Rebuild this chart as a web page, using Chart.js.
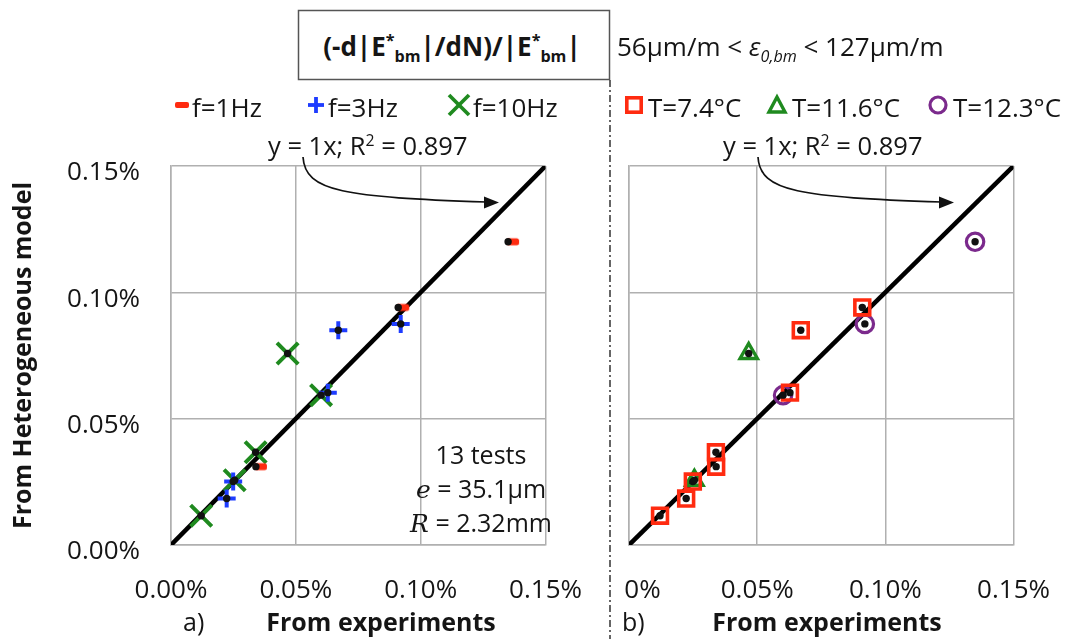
<!DOCTYPE html>
<html><head><meta charset="utf-8">
<script src="https://cdn.jsdelivr.net/npm/chart.js@4.4.1/dist/chart.umd.min.js"></script>
<style>
html,body{margin:0;padding:0;background:#fff;width:1080px;height:639px;overflow:hidden;}
#wrap{position:relative;width:1080px;height:639px;font-family:'Open Sans',sans-serif;color:#151515;}
canvas{position:absolute;top:0;}
.t{position:absolute;white-space:nowrap;line-height:1;}
.c{transform:translate(-50%,-50%);}
.l{transform:translateY(-50%);}
.b{font-weight:bold;}
sub,sup{font-size:62%;line-height:0;}
.ser{font-family:'DejaVu Serif','Liberation Serif',serif;font-style:italic;}
svg{position:absolute;left:0;top:0;pointer-events:none;}
</style></head><body>
<div id="wrap">
<canvas id="cA" width="612" height="639" style="left:0"></canvas>
<canvas id="cB" width="520" height="639" style="left:560px"></canvas>
<svg width="1080" height="639" viewBox="0 0 1080 639">
  <rect x="298.5" y="10.5" width="311" height="69" fill="#fff" stroke="#555" stroke-width="1.5"/>
  <line x1="610" y1="80" x2="610" y2="639" stroke="#333" stroke-width="1.5" stroke-dasharray="7 3 2 3"/>
  <g fill="none" stroke="#111" stroke-width="1.7">
    <path d="M303,157 C305,192 345,197 487,202"/>
    <path d="M758,157 C760,192 800,197 942,202"/>
  </g>
  <g fill="#111">
    <polygon points="499,202.5 484,196.5 484,208.5"/>
    <polygon points="954,202.5 939,196.5 939,208.5"/>
  </g>
  <g id="legendMarks"></g>
</svg>
<div class="t c b" style="left:452px;top:46px;font-size:26px;">(-d|E<sup>*</sup><sub>bm</sub>|/dN)/|E<sup>*</sup><sub>bm</sub>|</div>
<div class="t l" style="left:617px;top:46px;font-size:26px;">56μm/m &lt; <i>ε<sub>0,bm</sub></i> &lt; 127μm/m</div>
<div id="legendText"></div>
<div class="t l" style="left:268px;top:146px;font-size:25.5px;">y = 1x; R<sup>2</sup> = 0.897</div>
<div class="t l" style="left:723px;top:146px;font-size:25.5px;">y = 1x; R<sup>2</sup> = 0.897</div>
<div class="t c" style="left:481px;top:454px;font-size:25px;">13 tests</div>
<div class="t c" style="left:481px;top:489px;font-size:25px;"><span class="ser">e</span> = 35.1μm</div>
<div class="t c" style="left:481px;top:523px;font-size:25px;"><span class="ser">R</span> = 2.32mm</div>
<div class="t l" style="left:183px;top:621px;font-size:25px;">a)</div>
<div class="t c b" style="left:381px;top:621px;font-size:25px;">From experiments</div>
<div class="t l" style="left:622px;top:621px;font-size:25px;">b)</div>
<div class="t c b" style="left:827px;top:621px;font-size:25px;">From experiments</div>
</div>
<script>
// ---- data ----
const expX   = [0.135, 0.091, 0.034, 0.067, 0.092, 0.0628, 0.0249, 0.0223, 0.0467, 0.0601, 0.0339, 0.0255, 0.0121];
const modelY = [0.120, 0.094, 0.031, 0.085, 0.0875, 0.0603, 0.0251, 0.0184, 0.0758, 0.0593, 0.0367, 0.0256, 0.0116];
const freqHz = [1, 1, 1, 3, 3, 3, 3, 3, 10, 10, 10, 10, 10];
const tempC  = [12.3, 7.4, 7.4, 7.4, 12.3, 7.4, 7.4, 7.4, 11.6, 12.3, 7.4, 11.6, 7.4];
const freqValues = [1, 3, 10];
const freqLabels = ['f=1Hz', 'f=3Hz', 'f=10Hz'];
const tempValues = [7.4, 11.6, 12.3];
const tempLabels = ['T=7.4°C', 'T=11.6°C', 'T=12.3°C'];
const tickValues = [0, 0.05, 0.10, 0.15];
const leftTickLabels = ['0.00%', '0.05%', '0.10%', '0.15%'];
const rightXTickLabels = ['0%', '0.05%', '0.10%', '0.15%'];
const trendSlope = 1;
const axisMin = 0, axisMax = 0.15;

// ---- styling ----
const FONT = "'Open Sans', sans-serif";
const RED = '#ff2b10', BLUE = '#1e3cff', GREEN = '#1f8a1f', PURPLE = '#7b2a8c';
const GRID = '#b0b0b0';
const TXT = '#151515';

// red dash marker, drawn slightly right of the point (as in the reference)
const dashImg = document.createElement('canvas');
dashImg.width = 26; dashImg.height = 10;
(function () {
  const c = dashImg.getContext('2d');
  c.fillStyle = RED;
  c.beginPath();
  if (c.roundRect) c.roundRect(11, 1.5, 13, 7, 2.5); else c.rect(11, 1.5, 13, 7);
  c.fill();
})();

const allPts = expX.map((x, i) => ({x, y: modelY[i]}));
const by = (key, v) => expX.map((x, i) => i).filter(i => key[i] === v).map(i => ({x: expX[i], y: modelY[i]}));
const trend = [{x: axisMin, y: trendSlope * axisMin}, {x: axisMax, y: trendSlope * axisMax}];

const dotsDs = {label: 'model', data: allPts, order: 0, pointStyle: 'circle', pointRadius: 3.7, pointBackgroundColor: '#111', pointBorderWidth: 0};
const lineDs = {label: 'y=1x', data: trend, order: 2, showLine: true, borderColor: '#000', borderWidth: 4.5, pointRadius: 0};

const freqStyles = [
  {pointStyle: dashImg, pointRadius: 7, pointBorderWidth: 0, color: RED},
  {pointStyle: 'cross', pointRadius: 9, pointBorderWidth: 4, color: BLUE},
  {pointStyle: 'crossRot', pointRadius: 15, pointBorderWidth: 4, color: GREEN}
];
const tempStyles = [
  {pointStyle: 'rect', pointRadius: 10.5, pointBorderWidth: 3.6, color: RED},
  {pointStyle: 'triangle', pointRadius: 10, pointBorderWidth: 3.4, color: GREEN},
  {pointStyle: 'circle', pointRadius: 8.7, pointBorderWidth: 3.2, color: PURPLE}
];
const mk = (label, data, s) => ({label, data, order: 1, pointStyle: s.pointStyle, pointRadius: s.pointRadius,
  pointBorderWidth: s.pointBorderWidth, pointBorderColor: s.color, pointBackgroundColor: 'rgba(255,255,255,0)', borderColor: s.color, legendStyle: s});

function axis(opts) {
  return Object.assign({
    type: 'linear', min: axisMin, max: axisMax,
    afterBuildTicks: s => { s.ticks = tickValues.map(v => ({value: v})); },
    grid: {color: GRID, lineWidth: 1.5, drawTicks: false},
    border: {color: GRID, width: 1.5},
  }, opts);
}
const baseOpts = {responsive: false, animation: false, events: [],
  plugins: {legend: {display: false}, tooltip: {enabled: false}}};

const chartA = new Chart(document.getElementById('cA'), {
  type: 'scatter',
  data: {datasets: [dotsDs, lineDs].concat(freqValues.map((f, k) => mk(freqLabels[k], by(freqHz, f), freqStyles[k])))},
  options: Object.assign({}, baseOpts, {
    layout: {padding: {top: 166, left: 0, right: 54, bottom: 0}},
    scales: {
      x: axis({afterFit: s => { s.height = 94; },
        ticks: {font: {family: FONT, size: 26}, color: TXT, padding: 30, maxRotation: 0, autoSkip: false,
          callback: (v, i) => leftTickLabels[i]}}),
      y: axis({afterFit: s => { s.width = 171; },
        title: {display: true, text: 'From Heterogeneous model', font: {family: FONT, size: 25, weight: 'bold'}, color: TXT, padding: {top: 9, bottom: 0}},
        ticks: {font: {family: FONT, size: 26}, color: TXT, padding: 31, labelOffset: 7, autoSkip: false,
          callback: (v, i) => leftTickLabels[i]}})
    }
  })
});

const chartB = new Chart(document.getElementById('cB'), {
  type: 'scatter',
  data: {datasets: [dotsDs, lineDs].concat(tempValues.map((t, k) => mk(tempLabels[k], by(tempC, t), tempStyles[k])))},
  options: Object.assign({}, baseOpts, {
    layout: {padding: {top: 166, left: 0, right: 63, bottom: 0}},
    scales: {
      x: axis({afterFit: s => { s.height = 94; },
        ticks: {font: {family: FONT, size: 26}, color: TXT, padding: 30, maxRotation: 0, autoSkip: false,
          callback: (v, i) => (i === 0 ? '    ' : '') + rightXTickLabels[i]}}),
      y: axis({afterFit: s => { s.width = 69; }, ticks: {display: false}})
    }
  })
});

// ---- HTML legends built from the datasets ----
const NS = 'http://www.w3.org/2000/svg';
const marks = document.getElementById('legendMarks');
const ltxt = document.getElementById('legendText');
function svgEl(tag, attrs) { const e = document.createElementNS(NS, tag); for (const k in attrs) e.setAttribute(k, attrs[k]); marks.appendChild(e); }
function drawMark(style, color, cx, cy) {
  if (typeof style !== 'string') svgEl('rect', {x: cx - 7, y: cy - 3, width: 14, height: 6, rx: 2, fill: color});
  else if (style === 'cross') { svgEl('line', {x1: cx - 8, y1: cy, x2: cx + 8, y2: cy, stroke: color, 'stroke-width': 3.8}); svgEl('line', {x1: cx, y1: cy - 8, x2: cx, y2: cy + 8, stroke: color, 'stroke-width': 3.8}); }
  else if (style === 'crossRot') { svgEl('line', {x1: cx - 10, y1: cy - 10, x2: cx + 10, y2: cy + 10, stroke: color, 'stroke-width': 3.8}); svgEl('line', {x1: cx - 10, y1: cy + 10, x2: cx + 10, y2: cy - 10, stroke: color, 'stroke-width': 3.8}); }
  else if (style === 'rect') svgEl('rect', {x: cx - 7.2, y: cy - 7.2, width: 14.4, height: 14.4, fill: 'none', stroke: color, 'stroke-width': 3.6});
  else if (style === 'triangle') svgEl('polygon', {points: `${cx},${cy - 8} ${cx - 8},${cy + 7} ${cx + 8},${cy + 7}`, fill: 'none', stroke: color, 'stroke-width': 3.4});
  else if (style === 'circle') svgEl('circle', {cx, cy, r: 8, fill: 'none', stroke: color, 'stroke-width': 3.2});
}
function legend(chart, markX, textX, cy) {
  chart.data.datasets.filter(ds => ds.legendStyle).forEach((ds, k) => {
    drawMark(ds.pointStyle, ds.legendStyle.color, markX[k], cy);
    const d = document.createElement('div');
    d.className = 't l'; d.style.left = textX[k] + 'px'; d.style.top = (cy + 2) + 'px'; d.style.fontSize = '26px';
    d.textContent = ds.label; ltxt.appendChild(d);
  });
}
legend(chartA, [182, 316, 459], [192, 328, 473], 105);
legend(chartB, [634, 777, 938], [648, 792, 953], 105);
</script>
</body></html>
